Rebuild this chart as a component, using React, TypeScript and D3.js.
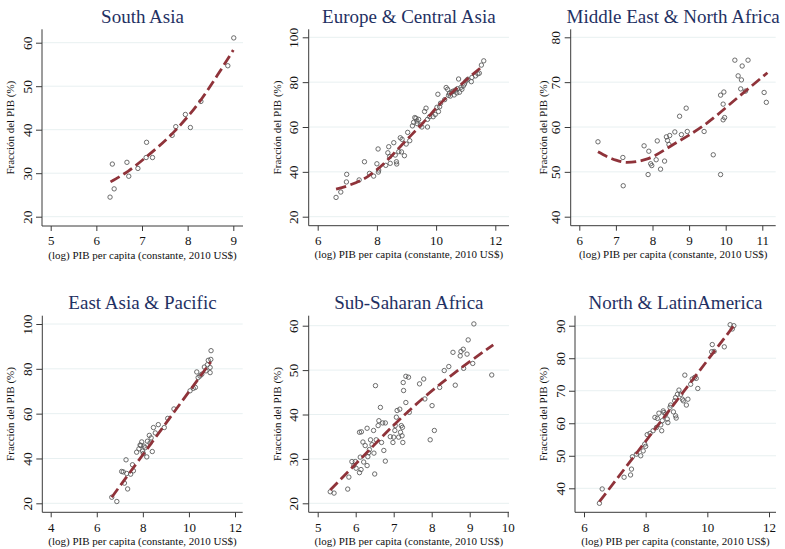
import React, { useEffect, useRef } from 'react';
import * as d3 from 'd3';

// ---- data (x = log GDP per capita, y = share of GDP %) ----
const southAsiaPts = [
  [6.30, 24.5], [6.35, 32.1], [6.39, 26.4], [6.67, 32.5], [6.71, 29.3], [6.91, 31.1],
  [7.10, 37.1], [7.09, 33.6], [7.23, 33.6], [7.66, 38.7], [7.74, 40.7], [7.95, 43.5],
  [8.06, 40.5], [8.29, 46.5], [8.88, 54.7], [9.01, 61.1]
];
const southAsiaFit = [[6.31, 28.0], [6.7, 30.5], [7.1, 33.8], [7.7, 39.5], [8.3, 47.0], [8.65, 52.5], [9.0, 58.3]];

const europePts = [
  [6.62, 28.6], [6.78, 31.0], [6.98, 38.9], [6.97, 35.5], [7.40, 36.4], [7.58, 44.5],
  [7.75, 39.3], [7.89, 38.1], [8.00, 43.6], [8.04, 50.2], [8.06, 40.8], [8.05, 39.9],
  [8.30, 42.9], [8.40, 51.2], [8.37, 48.5], [8.43, 46.8], [8.45, 43.8], [8.57, 53.0],
  [8.62, 47.5], [8.66, 44.5], [8.67, 43.5], [8.74, 49.0], [8.79, 55.2], [8.85, 54.5],
  [8.83, 48.9], [8.93, 47.2], [8.99, 52.4], [9.04, 57.6], [9.11, 53.9], [9.24, 62.1],
  [9.28, 64.2], [9.32, 63.9], [9.35, 62.7], [9.41, 63.4], [9.47, 60.9], [9.52, 60.0],
  [9.61, 66.9], [9.66, 68.4], [9.71, 60.0], [9.71, 63.4], [9.78, 64.6], [9.90, 64.6],
  [9.97, 65.6], [10.03, 68.8], [10.06, 74.6], [10.08, 66.9], [10.15, 70.6], [10.29, 72.2],
  [10.34, 77.6], [10.39, 76.8], [10.42, 74.1], [10.48, 73.8], [10.53, 75.6], [10.61, 74.3],
  [10.66, 76.5], [10.72, 77.1], [10.76, 81.4], [10.79, 75.5], [10.84, 77.7], [10.87, 76.8],
  [10.92, 78.3], [10.96, 79.2], [11.01, 80.5], [11.07, 81.3], [11.19, 80.2], [11.21, 82.1],
  [11.33, 82.8], [11.41, 83.7], [11.46, 84.0], [11.53, 87.6], [11.61, 89.5], [9.36, 61.5],
  [10.58, 76.0], [10.70, 75.2], [10.45, 75.0], [10.12, 69.0], [9.20, 60.5]
];
const europeFit = [[6.62, 32.3], [7.1, 34.2], [7.7, 38.0], [8.3, 44.5], [8.84, 52.0], [9.57, 62.0], [10.2, 71.2], [10.72, 77.5], [11.6, 87.5]];

const menaPts = [
  [6.51, 56.7], [7.19, 53.2], [7.20, 46.9], [7.77, 55.8], [7.88, 49.4], [7.90, 54.6],
  [7.95, 51.8], [7.98, 51.4], [8.10, 52.7], [8.13, 56.9], [8.22, 50.6], [8.33, 52.4],
  [8.38, 57.8], [8.41, 57.0], [8.45, 56.1], [8.47, 58.1], [8.61, 58.9], [8.74, 62.4],
  [8.79, 58.3], [8.92, 64.2], [8.95, 59.0], [9.41, 59.0], [9.66, 53.8], [9.86, 49.4],
  [9.86, 67.1], [9.95, 67.8], [9.93, 65.1], [9.93, 61.6], [9.97, 62.1], [10.25, 74.9],
  [10.34, 71.4], [10.41, 68.5], [10.43, 70.5], [10.45, 73.6], [10.54, 68.0], [10.61, 74.9],
  [11.05, 67.7], [11.11, 65.5]
];
const menaFit = [[6.51, 54.5], [7.0, 52.6], [7.3, 52.1], [7.86, 52.9], [8.59, 56.2], [9.41, 60.4], [10.32, 66.5], [11.14, 72.1]];

const eastAsiaPts = [
  [6.65, 22.7], [6.87, 20.8], [7.08, 34.2], [7.15, 34.0], [7.20, 29.0], [7.27, 39.4],
  [7.34, 26.4], [7.30, 33.3], [7.47, 33.0], [7.55, 37.2], [7.59, 34.5], [7.73, 42.8],
  [7.83, 44.3], [7.91, 45.8], [7.95, 47.4], [7.99, 43.3], [8.02, 42.2], [8.10, 44.8],
  [8.17, 40.7], [8.20, 47.7], [8.28, 50.3], [8.31, 46.9], [8.36, 49.2], [8.41, 43.1],
  [8.46, 53.8], [8.54, 51.4], [8.67, 55.1], [8.93, 53.8], [9.08, 57.9], [9.35, 62.1],
  [10.05, 70.2], [10.19, 71.3], [10.28, 71.7], [10.34, 78.6], [10.40, 76.1], [10.48, 76.8],
  [10.56, 77.6], [10.67, 80.8], [10.74, 79.1], [10.80, 81.8], [10.84, 83.8], [10.92, 78.3],
  [10.95, 84.2], [10.92, 80.6], [10.96, 88.1], [8.05, 45.5], [7.88, 46.0]
];
const eastAsiaFit = [[6.65, 22.7], [8.8, 52.9], [10.95, 83.1]];

const ssaPts = [
  [5.33, 22.6], [5.43, 22.3], [5.79, 23.2], [5.82, 25.9], [5.90, 29.4], [5.99, 29.4],
  [5.95, 28.5], [6.01, 27.9], [6.10, 36.0], [6.15, 36.1], [6.10, 26.9], [6.14, 27.6],
  [6.12, 30.4], [6.21, 29.3], [6.19, 33.8], [6.25, 33.0], [6.30, 36.9], [6.30, 28.5],
  [6.32, 30.5], [6.34, 31.4], [6.36, 32.1], [6.39, 34.3], [6.43, 33.2], [6.47, 36.4],
  [6.48, 31.3], [6.50, 26.6], [6.52, 46.5], [6.54, 34.3], [6.59, 37.5], [6.61, 38.6],
  [6.65, 41.6], [6.68, 33.7], [6.71, 38.1], [6.74, 31.9], [6.78, 38.1], [6.78, 29.5],
  [6.91, 35.0], [6.98, 33.7], [7.00, 34.9], [7.03, 36.4], [7.04, 37.5], [7.07, 39.4],
  [7.09, 40.9], [7.13, 34.9], [7.16, 41.2], [7.18, 36.0], [7.20, 37.5], [7.22, 35.2],
  [7.23, 37.1], [7.24, 33.7], [7.25, 47.2], [7.26, 45.4], [7.32, 48.6], [7.39, 48.4],
  [7.32, 42.7], [7.41, 40.5], [7.68, 46.9], [7.79, 48.0], [7.82, 43.5], [8.01, 42.0],
  [7.96, 34.3], [8.07, 36.4], [8.21, 46.1], [8.33, 49.9], [8.45, 50.8], [8.56, 54.0],
  [8.62, 46.6], [8.75, 53.2], [8.77, 54.2], [8.83, 54.7], [8.84, 50.4], [8.93, 53.6],
  [8.96, 56.8], [9.08, 51.5], [9.11, 60.4], [9.58, 48.9]
];
const ssaFit = [[5.33, 23.0], [6.2, 30.6], [7.0, 37.6], [7.9, 44.6], [8.7, 50.0], [9.62, 55.7]];

const americaPts = [
  [6.50, 35.4], [6.59, 39.8], [7.30, 43.4], [7.51, 44.1], [7.54, 45.9], [7.57, 49.7],
  [7.70, 50.5], [7.84, 50.0], [7.92, 51.5], [7.97, 53.6], [8.00, 52.9], [8.05, 56.5],
  [8.14, 56.9], [8.24, 57.7], [8.30, 61.8], [8.35, 58.7], [8.38, 61.5], [8.43, 63.1],
  [8.49, 59.5], [8.52, 57.7], [8.54, 60.8], [8.57, 63.8], [8.59, 63.3], [8.65, 62.8],
  [8.72, 60.2], [8.70, 61.3], [8.79, 64.9], [8.81, 65.6], [8.90, 63.5], [8.94, 66.9],
  [8.97, 62.3], [8.99, 61.6], [8.97, 67.9], [9.03, 68.9], [9.08, 70.2], [9.14, 68.9],
  [9.19, 67.4], [9.22, 66.9], [9.27, 74.8], [9.32, 65.6], [9.37, 67.4], [9.46, 72.0],
  [9.51, 73.6], [9.59, 74.1], [9.64, 73.8], [9.69, 70.7], [10.14, 82.0], [10.16, 84.2],
  [10.22, 82.1], [10.55, 83.5], [10.74, 90.3], [10.86, 90.0], [10.81, 89.0]
];
const americaFit = [[6.5, 35.9], [8.68, 62.9], [10.86, 90.0]];

// tick values
const saXTicks = [5, 6, 7, 8, 9];
const saYTicks = [20, 30, 40, 50, 60];
const euXTicks = [6, 8, 10, 12];
const euYTicks = [20, 40, 60, 80, 100];
const meXTicks = [6, 7, 8, 9, 10, 11];
const meYTicks = [40, 50, 60, 70, 80];
const eaXTicks = [4, 6, 8, 10, 12];
const eaYTicks = [20, 40, 60, 80, 100];
const ssXTicks = [5, 6, 7, 8, 9, 10];
const ssYTicks = [20, 30, 40, 50, 60];
const amXTicks = [6, 8, 10, 12];
const amYTicks = [40, 50, 60, 70, 80, 90];

const titles = [
  'South Asia', 'Europe & Central Asia', 'Middle East & North Africa',
  'East Asia & Pacific', 'Sub-Saharan Africa', 'North & LatinAmerica'
];

// layout of each panel (pixels): plot box + where two tick values land
const layout = [
  { left: 42, right: 243, top: 29.3, bottom: 226, xd: [5, 9], xr: [50.7, 233.3], yd: [20, 60], yr: [216.7, 42.7], yt: 28 },
  { left: 308.7, right: 509, top: 29.3, bottom: 225.7, xd: [6, 12], xr: [317.7, 495.3], yd: [20, 100], yr: [216.7, 37.3], yt: 28 },
  { left: 570.7, right: 775.7, top: 29.3, bottom: 225.7, xd: [6, 11], xr: [579.3, 762.3], yd: [40, 80], yr: [216.7, 37.3], yt: 23.5 },
  { left: 42.3, right: 242.7, top: 315.7, bottom: 512.3, xd: [4, 12], xr: [50.7, 235], yd: [20, 100], yr: [503.3, 324], yt: 28 },
  { left: 308.7, right: 509, top: 315.7, bottom: 512.3, xd: [5, 10], xr: [317.7, 507.7], yd: [20, 60], yr: [503.3, 325.7], yt: 28 },
  { left: 575, right: 776, top: 315.7, bottom: 512.3, xd: [6, 12], xr: [584, 769], yd: [40, 90], yr: [488.3, 325.7], yt: 28 }
];

const panelData = [
  { pts: southAsiaPts, fit: southAsiaFit, xt: saXTicks, yt: saYTicks },
  { pts: europePts, fit: europeFit, xt: euXTicks, yt: euYTicks },
  { pts: menaPts, fit: menaFit, xt: meXTicks, yt: meYTicks },
  { pts: eastAsiaPts, fit: eastAsiaFit, xt: eaXTicks, yt: eaYTicks },
  { pts: ssaPts, fit: ssaFit, xt: ssXTicks, yt: ssYTicks },
  { pts: americaPts, fit: americaFit, xt: amXTicks, yt: amYTicks }
];

const FONT = '"Liberation Serif", "Times New Roman", Times, serif';
const W = 785;
const H = 549;

const App = () => {
  const ref = useRef<SVGSVGElement>(null);

  useEffect(() => {
    const svg = d3.select(ref.current);
    svg.selectAll('*').remove();
    svg.append('rect').attr('width', W).attr('height', H).attr('fill', '#fff');

    panelData.forEach((pd, i) => {
      const L = layout[i];
      const x = d3.scaleLinear().domain(L.xd).range(L.xr);
      const y = d3.scaleLinear().domain(L.yd).range(L.yr);
      const g = svg.append('g').attr('font-family', FONT);

      // gridlines
      g.append('g')
        .selectAll('line')
        .data(pd.yt)
        .join('line')
        .attr('x1', L.left)
        .attr('x2', L.right)
        .attr('y1', d => y(d))
        .attr('y2', d => y(d))
        .attr('stroke', '#e8f0f1')
        .attr('stroke-width', 1);

      // markers
      g.append('g')
        .selectAll('circle')
        .data(pd.pts)
        .join('circle')
        .attr('cx', d => x(d[0]))
        .attr('cy', d => y(d[1]))
        .attr('r', 2.2)
        .attr('fill', 'none')
        .attr('stroke', '#5c5c5c')
        .attr('stroke-width', 0.9);

      // fitted line
      const line = d3.line<number[]>()
        .x(d => x(d[0]))
        .y(d => y(d[1]))
        .curve(d3.curveMonotoneX);
      g.append('path')
        .attr('d', line(pd.fit))
        .attr('fill', 'none')
        .attr('stroke', '#8f333a')
        .attr('stroke-width', 2.8)
        .attr('stroke-dasharray', '10.5 4.5');

      // x axis
      const xAxis = g.append('g')
        .attr('transform', `translate(0,${L.bottom})`)
        .call(d3.axisBottom(x).tickValues(pd.xt).tickSize(5).tickFormat(d3.format('d')));
      xAxis.select('.domain').remove();
      xAxis.selectAll('line').attr('stroke', '#3a3a3a');
      xAxis.selectAll('text')
        .attr('y', 19.3)
        .attr('dy', null)
        .attr('font-size', 13)
        .attr('font-family', FONT)
        .attr('fill', '#111');

      // y axis
      const yAxis = g.append('g')
        .attr('transform', `translate(${L.left},0)`)
        .call(d3.axisLeft(y).tickValues(pd.yt).tickSize(6).tickFormat(d3.format('d')));
      yAxis.select('.domain').remove();
      yAxis.selectAll('line').attr('stroke', '#3a3a3a');
      yAxis.selectAll('text')
        .attr('x', null)
        .attr('dy', null)
        .attr('text-anchor', 'middle')
        .attr('transform', 'translate(-10.5,0) rotate(-90)')
        .attr('font-size', 13.5)
        .attr('font-family', FONT)
        .attr('fill', '#111');

      // axis lines
      g.append('line')
        .attr('x1', L.left).attr('x2', L.left)
        .attr('y1', L.top).attr('y2', L.bottom)
        .attr('stroke', '#3a3a3a').attr('stroke-width', 1);
      g.append('line')
        .attr('x1', L.left).attr('x2', L.right)
        .attr('y1', L.bottom).attr('y2', L.bottom)
        .attr('stroke', '#3a3a3a').attr('stroke-width', 1);

      // titles
      const cx = (L.left + L.right) / 2;
      g.append('text')
        .attr('x', cx)
        .attr('y', L.top - 6.8)
        .attr('text-anchor', 'middle')
        .attr('font-size', 19)
        .attr('fill', '#1f3163')
        .text(titles[i]);

      g.append('text')
        .attr('x', cx)
        .attr('y', L.bottom + 32.5)
        .attr('text-anchor', 'middle')
        .attr('font-size', 11)
        .attr('fill', '#111')
        .text('(log) PIB per capita (constante, 2010 US$)');

      g.append('text')
        .attr('transform', `translate(${L.left - L.yt},${(L.top + L.bottom) / 2}) rotate(-90)`)
        .attr('text-anchor', 'middle')
        .attr('font-size', 11)
        .attr('fill', '#111')
        .text('Fracción del PIB (%)');
    });
  }, []);

  return (
    <div style={{ position: 'absolute', left: 0, top: 0 }}>
      <svg ref={ref} width={W} height={H} style={{ display: 'block' }}></svg>
    </div>
  );
};

export default App;
